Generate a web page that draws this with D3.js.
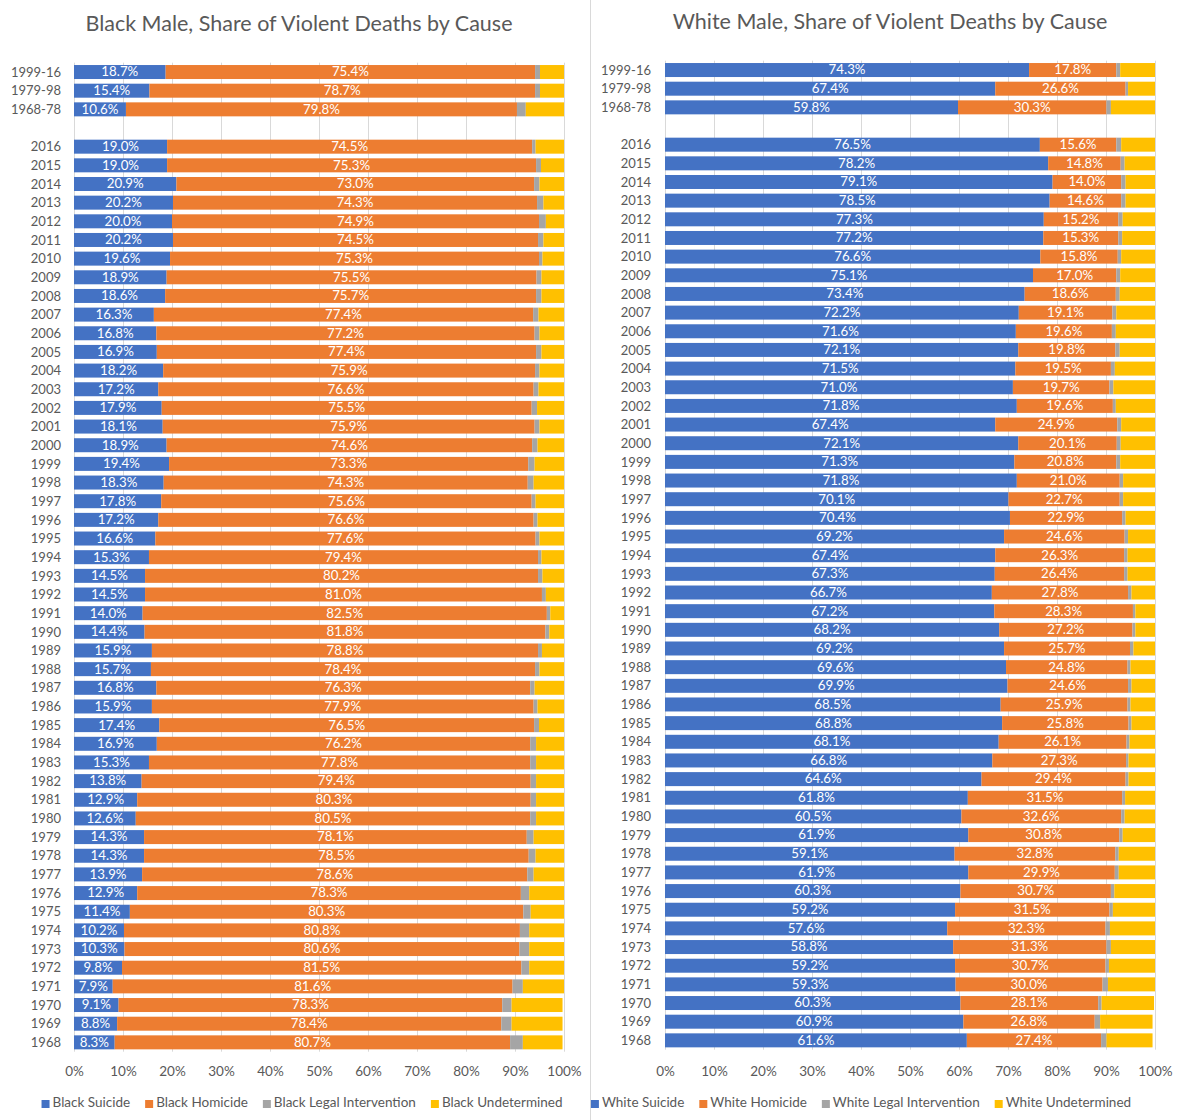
<!DOCTYPE html>
<html>
<head>
<meta charset="utf-8">
<script src="https://cdn.jsdelivr.net/npm/d3@7"></script>
<style>
  body { margin: 0; background: #fff; }
  svg { display: block; font-family: Lato, "Open Sans", sans-serif; }
</style>
</head>
<body>
<svg id="chart" width="1187" height="1120"></svg>
<script>
// row labels, top to bottom ("gap" is the empty row under the period totals)
const categories = ["1999-16", "1979-98", "1968-78", "gap",
  "2016", "2015", "2014", "2013", "2012", "2011", "2010", "2009", "2008", "2007",
  "2006", "2005", "2004", "2003", "2002", "2001", "2000", "1999", "1998", "1997",
  "1996", "1995", "1994", "1993", "1992", "1991", "1990", "1989", "1988", "1987",
  "1986", "1985", "1984", "1983", "1982", "1981", "1980", "1979", "1978", "1977",
  "1976", "1975", "1974", "1973", "1972", "1971", "1970", "1969", "1968"];

const xTicks = [0, 10, 20, 30, 40, 50, 60, 70, 80, 90, 100];

// Black male, % of violent deaths (rows without the gap)
const blackSuicide = [18.7, 15.4, 10.6,
  19.0, 19.0, 20.9, 20.2, 20.0, 20.2, 19.6, 18.9, 18.6, 16.3, 16.8, 16.9, 18.2, 17.2,
  17.9, 18.1, 18.9, 19.4, 18.3, 17.8, 17.2, 16.6, 15.3, 14.5, 14.5, 14.0, 14.4, 15.9,
  15.7, 16.8, 15.9, 17.4, 16.9, 15.3, 13.8, 12.9, 12.6, 14.3, 14.3, 13.9, 12.9, 11.4,
  10.2, 10.3, 9.8, 7.9, 9.1, 8.8, 8.3];
const blackHomicide = [75.4, 78.7, 79.8,
  74.5, 75.3, 73.0, 74.3, 74.9, 74.5, 75.3, 75.5, 75.7, 77.4, 77.2, 77.4, 75.9, 76.6,
  75.5, 75.9, 74.6, 73.3, 74.3, 75.6, 76.6, 77.6, 79.4, 80.2, 81.0, 82.5, 81.8, 78.8,
  78.4, 76.3, 77.9, 76.5, 76.2, 77.8, 79.4, 80.3, 80.5, 78.1, 78.5, 78.6, 78.3, 80.3,
  80.8, 80.6, 81.5, 81.6, 78.3, 78.4, 80.7];
const blackLegal = [1.0, 1.0, 1.8,
  0.7, 1.0, 1.1, 1.3, 1.4, 1.1, 0.7, 1.0, 1.1, 1.1, 1.0, 1.1, 0.9, 1.0,
  1.1, 1.0, 1.1, 1.3, 1.2, 0.8, 0.8, 0.8, 0.7, 0.9, 0.8, 0.7, 0.8, 0.8,
  0.9, 0.9, 0.8, 1.0, 1.2, 1.2, 1.1, 1.1, 1.2, 1.4, 1.4, 1.3, 1.7, 1.5,
  1.9, 2.0, 1.6, 2.1, 1.9, 2.1, 2.6];
const blackUndetermined = [4.9, 4.9, 7.8,
  5.8, 4.7, 5.0, 4.2, 3.7, 4.2, 4.4, 4.6, 4.6, 5.2, 5.0, 4.6, 5.0, 5.2,
  5.5, 5.0, 5.4, 6.0, 6.2, 5.8, 5.4, 5.0, 4.6, 4.4, 3.7, 2.8, 3.0, 4.5,
  5.0, 6.0, 5.4, 5.1, 5.7, 5.7, 5.7, 5.7, 5.7, 6.2, 5.8, 6.2, 7.1, 6.8,
  7.1, 7.1, 7.1, 8.4, 10.4, 10.4, 8.1];

// White male, % of violent deaths
const whiteSuicide = [74.3, 67.4, 59.8,
  76.5, 78.2, 79.1, 78.5, 77.3, 77.2, 76.6, 75.1, 73.4, 72.2, 71.6, 72.1, 71.5, 71.0,
  71.8, 67.4, 72.1, 71.3, 71.8, 70.1, 70.4, 69.2, 67.4, 67.3, 66.7, 67.2, 68.2, 69.2,
  69.6, 69.9, 68.5, 68.8, 68.1, 66.8, 64.6, 61.8, 60.5, 61.9, 59.1, 61.9, 60.3, 59.2,
  57.6, 58.8, 59.2, 59.3, 60.3, 60.9, 61.6];
const whiteHomicide = [17.8, 26.6, 30.3,
  15.6, 14.8, 14.0, 14.6, 15.2, 15.3, 15.8, 17.0, 18.6, 19.1, 19.6, 19.8, 19.5, 19.7,
  19.6, 24.9, 20.1, 20.8, 21.0, 22.7, 22.9, 24.6, 26.3, 26.4, 27.8, 28.3, 27.2, 25.7,
  24.8, 24.6, 25.9, 25.8, 26.1, 27.3, 29.4, 31.5, 32.6, 30.8, 32.8, 29.9, 30.7, 31.5,
  32.3, 31.3, 30.7, 30.0, 28.1, 26.8, 27.4];
const whiteLegal = [0.8, 0.5, 0.9,
  1.0, 0.8, 0.9, 0.9, 0.9, 0.8, 0.7, 0.8, 0.8, 0.8, 0.8, 0.9, 0.8, 0.8,
  0.6, 0.8, 0.8, 0.8, 0.7, 0.7, 0.7, 0.7, 0.7, 0.7, 0.7, 0.5, 0.6, 0.7,
  0.6, 0.7, 0.6, 0.6, 0.6, 0.5, 0.6, 0.6, 0.7, 0.7, 0.7, 0.8, 0.7, 0.7,
  0.9, 0.9, 0.7, 1.1, 0.7, 1.1, 1.1];
const whiteUndetermined = [7.1, 5.5, 9.0,
  6.9, 6.2, 6.0, 6.0, 6.6, 6.7, 6.9, 7.1, 7.2, 7.9, 8.0, 7.2, 8.2, 8.5,
  8.0, 6.9, 7.0, 7.1, 6.5, 6.5, 6.0, 5.5, 5.6, 5.6, 4.8, 4.0, 4.0, 4.4,
  5.0, 4.8, 5.0, 4.8, 5.2, 5.4, 5.4, 6.1, 6.2, 6.6, 7.4, 7.4, 8.3, 8.6,
  9.2, 9.0, 9.4, 9.6, 10.7, 10.7, 9.4];

const keys = ["suicide", "homicide", "legal", "undetermined"];
const colors = { suicide: "#4472C4", homicide: "#ED7D31", legal: "#A5A5A5", undetermined: "#FFC000" };
const keyNames = { suicide: "Suicide", homicide: "Homicide", legal: "Legal Intervention", undetermined: "Undetermined" };
const textColor = "#595959";

const svg = d3.select("#chart");

// divider between the two charts
svg.append("line")
  .attr("x1", 590.5).attr("x2", 590.5)
  .attr("y1", 0).attr("y2", 1120)
  .attr("stroke", "#D9D9D9");

function drawPanel(p) {
  let years = categories.filter(c => c !== "gap");
  let rows = years.map((c, i) => ({
    cat: c,
    suicide: p.suicide[i],
    homicide: p.homicide[i],
    legal: p.legal[i],
    undetermined: p.undetermined[i]
  }));

  let step = 18.66;
  let x = d3.scaleLinear().domain([0, 100]).range([p.left, p.left + 490]);
  let y = d3.scaleBand().domain(categories)
    .range([p.top, p.top + step * categories.length])
    .paddingInner(0.25).paddingOuter(0.125);

  let g = svg.append("g");

  // title
  g.append("text")
    .attr("x", p.titleX)
    .attr("y", p.titleY)
    .attr("text-anchor", "middle")
    .attr("dominant-baseline", "middle")
    .attr("font-size", "21.5px")
    .attr("fill", textColor)
    .text(p.title);

  // vertical gridlines
  g.selectAll(".grid")
    .data(xTicks)
    .enter().append("line")
    .attr("x1", d => x(d) + 0.5).attr("x2", d => x(d) + 0.5)
    .attr("y1", y.range()[0]).attr("y2", y.range()[1])
    .attr("stroke", "#D9D9D9");

  let series = d3.stack().keys(keys)(rows);

  g.selectAll(".layer")
    .data(series)
    .enter().append("g")
    .attr("fill", d => colors[d.key])
    .selectAll("rect")
    .data(d => d)
    .enter().append("rect")
    .attr("x", d => x(d[0]))
    .attr("y", d => y(d.data.cat))
    .attr("width", d => x(d[1]) - x(d[0]))
    .attr("height", y.bandwidth());

  // labels only for suicide and homicide
  series.slice(0, 2).forEach(s => {
    g.append("g")
      .selectAll("text")
      .data(s)
      .enter().append("text")
      .attr("x", d => (x(d[0]) + x(d[1])) / 2)
      .attr("y", d => y(d.data.cat) + y.bandwidth() / 2 + 1)
      .attr("text-anchor", "middle")
      .attr("dominant-baseline", "middle")
      .attr("font-size", "13.3px")
      .attr("fill", "#fff")
      .text(d => d.data[s.key].toFixed(1) + "%");
  });

  // row labels
  let yAxis = d3.axisLeft(y).tickSize(0).tickFormat(d => d === "gap" ? "" : d);
  let ya = g.append("g")
    .attr("transform", `translate(${p.left - p.labelGap}, 0)`)
    .call(yAxis);
  ya.select(".domain").remove();
  ya.selectAll("text")
    .attr("font-family", "Lato, sans-serif")
    .attr("font-size", "13px")
    .attr("fill", textColor)
    .attr("dy", "0.36em");

  // percent axis
  let xAxis = d3.axisBottom(x).tickValues(xTicks).tickSize(0).tickFormat(d => d + "%");
  let xa = g.append("g")
    .attr("transform", `translate(0, ${p.tickY})`)
    .call(xAxis);
  xa.select(".domain").remove();
  xa.selectAll("text")
    .attr("font-family", "Lato, sans-serif")
    .attr("font-size", "13.5px")
    .attr("fill", textColor)
    .attr("y", 0)
    .attr("dy", "0.36em");

  // legend, laid out then centred
  let lg = g.append("g");
  let cursor = 0;
  keys.forEach(k => {
    let item = lg.append("g").attr("transform", `translate(${cursor}, 0)`);
    item.append("rect")
      .attr("x", 0).attr("y", -4)
      .attr("width", 8).attr("height", 8)
      .attr("fill", colors[k]);
    let t = item.append("text")
      .attr("x", 11)
      .attr("y", 0)
      .attr("dominant-baseline", "middle")
      .attr("font-size", "13.5px")
      .attr("fill", textColor)
      .text(p.group + " " + keyNames[k]);
    cursor += 11 + t.node().getComputedTextLength() + 15;
  });
  let legendW = cursor - 15;
  lg.attr("transform", `translate(${p.legendCenter - legendW / 2}, ${p.legendY})`);
}

drawPanel({
  group: "Black",
  title: "Black Male, Share of Violent Deaths by Cause",
  suicide: blackSuicide, homicide: blackHomicide, legal: blackLegal, undetermined: blackUndetermined,
  left: 74, top: 62.7, labelGap: 10, titleX: 299, titleY: 26, tickY: 1071, legendY: 1104, legendCenter: 302
});

drawPanel({
  group: "White",
  title: "White Male, Share of Violent Deaths by Cause",
  suicide: whiteSuicide, homicide: whiteHomicide, legal: whiteLegal, undetermined: whiteUndetermined,
  left: 665, top: 60.7, labelGap: 11, titleX: 890, titleY: 24, tickY: 1071, legendY: 1104, legendCenter: 861
});
</script>
</body>
</html>
